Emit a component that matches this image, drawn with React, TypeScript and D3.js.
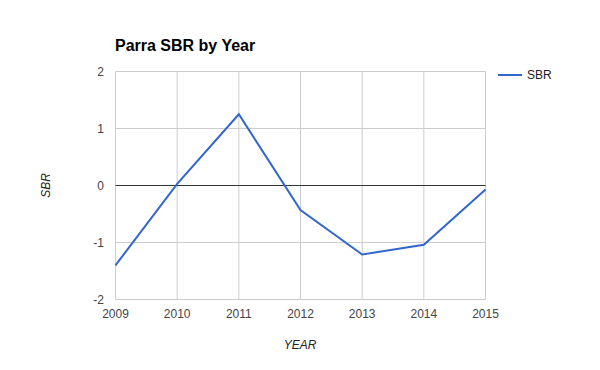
import React from "react";
import * as d3 from "d3";

const years = [2009, 2010, 2011, 2012, 2013, 2014, 2015];
const sbr = [-1.4, 0.03, 1.25, -0.43, -1.21, -1.04, -0.07];
const yTicks = [2, 1, 0, -1, -2];

export default function App() {
  const W = 600, H = 370;
  const left = 115.5, right = 485.5, top = 71.5, bottom = 299.5;
  const x = d3.scaleLinear().domain([2009, 2015]).range([left, right]);
  const y = d3.scaleLinear().domain([-2, 2]).range([bottom, top]);
  const line = d3.line<number>().x((_, i) => x(years[i])).y((d) => y(d));
  const font = "Arial, 'Liberation Sans', sans-serif";
  return (
    <svg width={W} height={H} style={{ position: "absolute", left: 0, top: 0, background: "#fff" }} fontFamily={font}>
      <text x={115} y={51} fontSize={16} fontWeight="bold" fill="#000">Parra SBR by Year</text>
      {years.map((yr) => (
        <line key={"vx" + yr} x1={x(yr)} x2={x(yr)} y1={top} y2={bottom} stroke="#cccccc" strokeWidth={1} />
      ))}
      {yTicks.map((t) => (
        <line key={"hy" + t} x1={left} x2={right} y1={y(t)} y2={y(t)} stroke={t === 0 ? "#333333" : "#cccccc"} strokeWidth={1} />
      ))}
      {yTicks.map((t) => (
        <text key={"ty" + t} x={104} y={y(t) + 4} fontSize={12} fill="#444" textAnchor="end">{t}</text>
      ))}
      {years.map((yr) => (
        <text key={"tx" + yr} x={x(yr)} y={318} fontSize={12} fill="#444" textAnchor="middle">{yr}</text>
      ))}
      <path d={line(sbr) || ""} fill="none" stroke="#3366cc" strokeWidth={2} />
      <text x={300} y={349} fontSize={12} fontStyle="italic" fill="#222" textAnchor="middle">YEAR</text>
      <text transform={`translate(50,${(top + bottom) / 2}) rotate(-90)`} fontSize={12} fontStyle="italic" fill="#222" textAnchor="middle">SBR</text>
      <line x1={498} x2={522} y1={75} y2={75} stroke="#3366cc" strokeWidth={2} />
      <text x={527} y={79} fontSize={12} fill="#222">SBR</text>
    </svg>
  );
}
